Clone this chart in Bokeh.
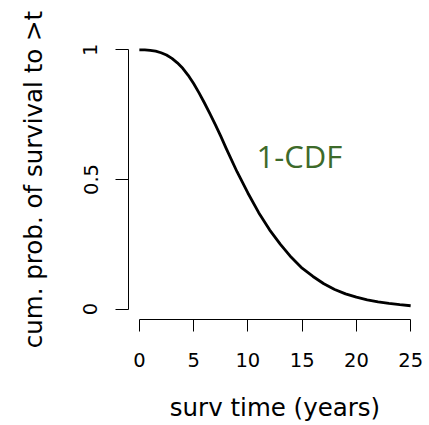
from bokeh.plotting import figure
from bokeh.models import Range1d, FixedTicker, ColumnDataSource
from bokeh.core.properties import value
from bokeh.embed import file_html
from bokeh.resources import INLINE

# survival time (years) and cumulative probability of survival to > t
surv_time = [0, 0.5, 1, 1.5, 2, 2.5, 3, 3.5, 4, 4.5, 5, 5.5, 6, 6.5, 7, 7.5, 8, 9, 10,
             11, 12, 13, 14, 15, 16, 17, 18, 19, 20, 21, 22, 23, 24, 25]
surv_prob = [1.000, 1.000, 0.998, 0.995, 0.989, 0.980, 0.967, 0.950, 0.929, 0.902,
             0.870, 0.834, 0.795, 0.754, 0.712, 0.667, 0.620, 0.530, 0.448,
             0.372, 0.306, 0.250, 0.200, 0.158, 0.126, 0.098, 0.076, 0.059, 0.046,
             0.036, 0.028, 0.022, 0.017, 0.013]

x_ticks = [0, 5, 10, 15, 20, 25]
y_ticks = [0, 0.5, 1]
y_tick_labels = {0: "0", 0.5: "0.5", 1: "1"}

curve_label = "1-CDF"
curve_label_x = 10.8
curve_label_y = 0.59

p = figure(width=429, height=425, output_backend="svg", toolbar_location=None,
           x_range=Range1d(-1, 26), y_range=Range1d(-0.04, 1.04),
           min_border_left=128, min_border_right=8, min_border_top=39, min_border_bottom=106)
p.outline_line_color = None
p.grid.visible = False
p.background_fill_color = "white"
p.border_fill_color = "white"

src = ColumnDataSource(dict(t=surv_time, s=surv_prob))
p.line("t", "s", source=src, line_width=2.8, line_color="black", line_join="round")

p.text(x=[curve_label_x], y=[curve_label_y], text=[curve_label],
       text_font=value("Open Sans"), text_font_size="31px", text_color="#3d6a2a",
       text_align="left", text_baseline="alphabetic")

font = "DejaVu Sans"
xa = p.xaxis[0]
xa.bounds = (0, 25)
xa.ticker = FixedTicker(ticks=x_ticks)
xa.minor_tick_line_color = None
xa.major_tick_out = 12
xa.major_tick_in = 0
xa.major_label_standoff = 21
xa.major_label_text_font = font
xa.major_label_text_font_size = "19.5px"
xa.major_label_text_color = "black"
xa.axis_line_color = "black"
xa.major_tick_line_color = "black"
xa.axis_label = "surv time (years)"
xa.axis_label_text_font = font
xa.axis_label_text_font_size = "24.5px"
xa.axis_label_text_font_style = "normal"
xa.axis_label_text_color = "black"
xa.axis_label_standoff = 23

ya = p.yaxis[0]
ya.bounds = (0, 1)
ya.ticker = FixedTicker(ticks=y_ticks)
ya.major_label_overrides = y_tick_labels
ya.major_label_orientation = "vertical"
ya.minor_tick_line_color = None
ya.major_tick_out = 13
ya.major_tick_in = 0
ya.major_label_standoff = 18
ya.major_label_text_font = font
ya.major_label_text_font_size = "19.5px"
ya.major_label_text_color = "black"
ya.axis_line_color = "black"
ya.major_tick_line_color = "black"
ya.axis_label = "cum. prob. of survival to >t"
ya.axis_label_text_font = font
ya.axis_label_text_font_size = "24.5px"
ya.axis_label_text_font_style = "normal"
ya.axis_label_text_color = "black"
ya.axis_label_standoff = 33

open("out.html", "w").write(file_html(p, INLINE))
